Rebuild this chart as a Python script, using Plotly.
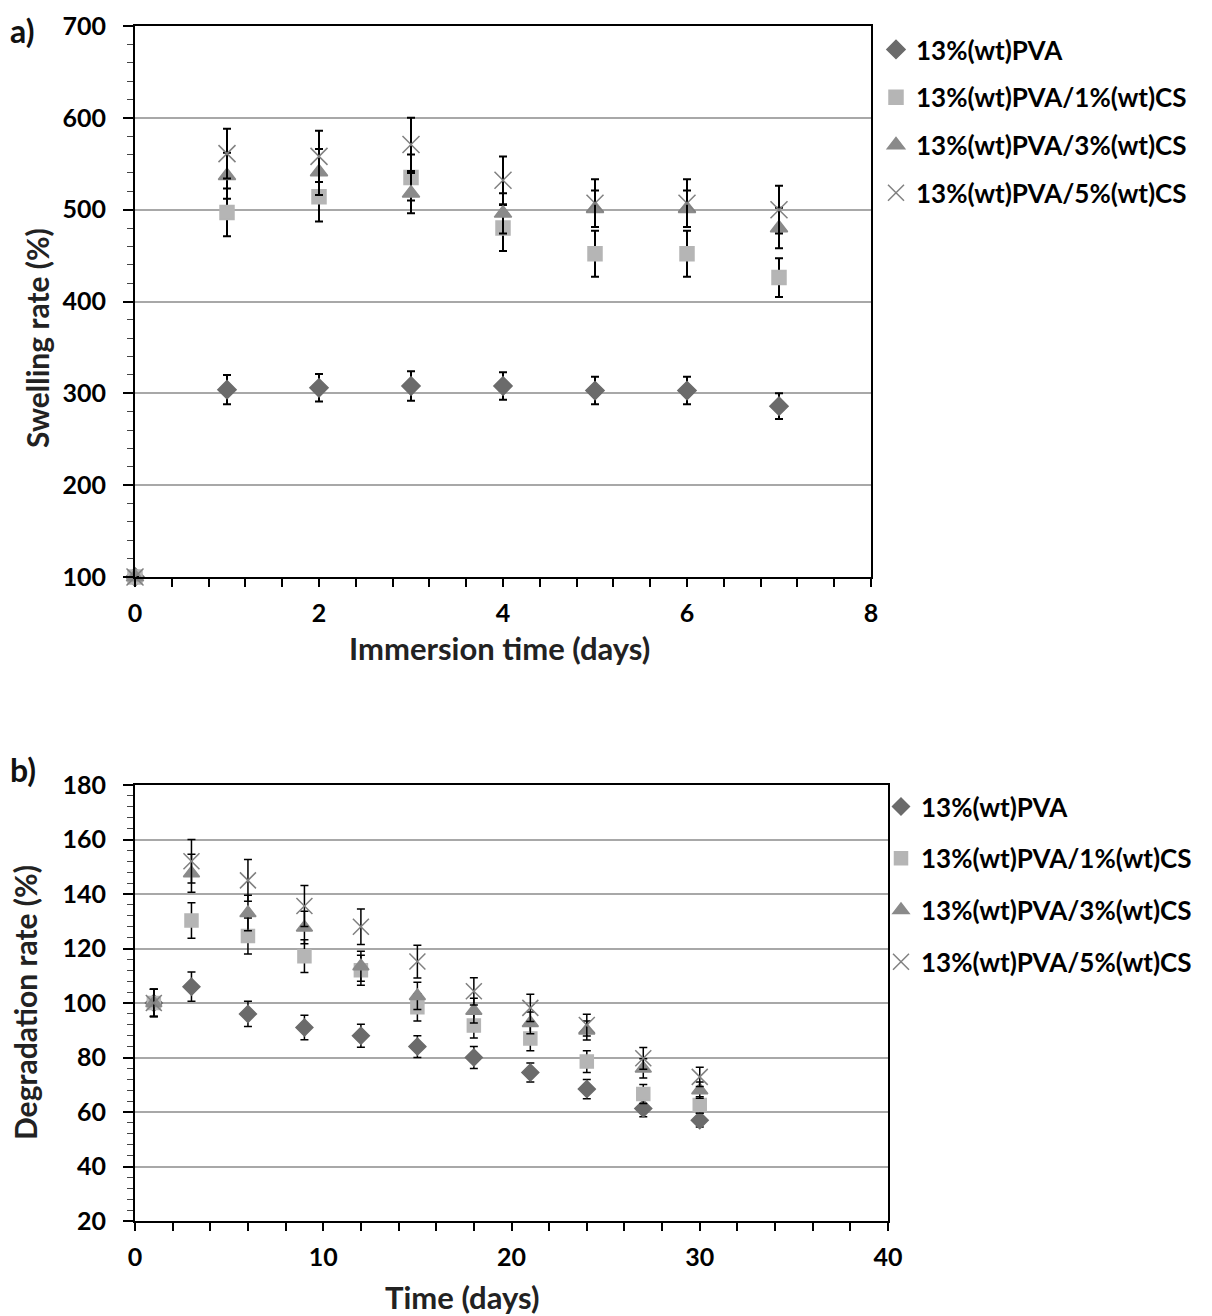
import plotly.graph_objects as go

# page body has an 8px margin; figure starts at (8, 8) in the page
OFF = 8
W, H = 1212 - OFF, 1316 - OFF

# ---------- data panel a ----------
days_a = [0, 1, 2, 3, 4, 5, 6, 7]
pva_a = [100, 304, 306, 308, 308, 303, 303, 286]
pva_a_err = [0, 16, 15, 16, 15, 15, 15, 14]
cs1_a = [100, 497, 514, 535, 480, 452, 452, 426]
cs1_a_err = [0, 26, 27, 25, 25, 25, 25, 21]
cs3_a = [100, 537, 541, 518, 496, 501, 501, 480]
cs3_a_err = [0, 25, 25, 22, 22, 20, 20, 22]
cs5_a = [100, 561, 558, 571, 532, 507, 507, 500]
cs5_a_err = [0, 27, 28, 29, 26, 26, 26, 26]

# ---------- data panel b ----------
days_b = [1, 3, 6, 9, 12, 15, 18, 21, 24, 27, 30]
pva_b = [100, 106, 96, 91, 88, 84, 80, 74.5, 68.4, 61.3, 57]
pva_b_err = [5, 5.4, 4.6, 4.5, 4.2, 4, 4, 3.5, 3.5, 3, 2.5]
cs1_b = [100, 130.3, 124.6, 117.2, 112, 98.4, 91.7, 87, 78.5, 66.6, 62.6]
cs1_b_err = [5, 6.5, 6.6, 6, 5.5, 5, 4.5, 4.5, 4, 3.5, 3]
cs3_b = [100, 147.6, 133, 127.7, 113.5, 102.6, 97.2, 92.7, 89.9, 76, 68]
cs3_b_err = [5, 7, 6.5, 6, 5.5, 5, 4.5, 4, 3.5, 3.5, 3]
cs5_b = [100, 152, 145, 135.6, 128, 115.2, 104.3, 98.2, 91.9, 79.7, 72.9]
cs5_b_err = [5, 8, 7.7, 7.5, 6.5, 6, 5, 5, 4, 4, 3.5]

names = ["13%(wt)PVA", "13%(wt)PVA/1%(wt)CS", "13%(wt)PVA/3%(wt)CS", "13%(wt)PVA/5%(wt)CS"]
symbols = ["diamond", "square", "triangle-up", "x-thin-open"]
colors = ["#6b6b6b", "#b5b5b5", "#8a8a8a", "#808080"]
sizes = [14, 14, 15, 17]

FONT = "Lato"
fig = go.Figure()

series_a = [(pva_a, pva_a_err), (cs1_a, cs1_a_err), (cs3_a, cs3_a_err), (cs5_a, cs5_a_err)]
series_b = [(pva_b, pva_b_err), (cs1_b, cs1_b_err), (cs3_b, cs3_b_err), (cs5_b, cs5_b_err)]

for i, (vals, err) in enumerate(series_a):
    fig.add_trace(go.Scatter(
        x=days_a, y=vals, mode="markers", name=names[i], cliponaxis=False,
        legend="legend", legendgroup="a%d" % i,
        marker=dict(symbol=symbols[i], size=sizes[i], color=colors[i],
                    line=dict(color=colors[i], width=1.5)),
        error_y=dict(type="data", array=err, color="black", thickness=2, width=4),
        xaxis="x", yaxis="y"))

for i, (vals, err) in enumerate(series_b):
    fig.add_trace(go.Scatter(
        x=days_b, y=vals, mode="markers", name=names[i],
        legend="legend2", legendgroup="b%d" % i,
        marker=dict(symbol=symbols[i], size=sizes[i] - 1, color=colors[i],
                    line=dict(color=colors[i], width=1.5)),
        error_y=dict(type="data", array=err, color="black", thickness=1.5, width=4),
        xaxis="x2", yaxis="y2"))


def px(x):
    return (x - OFF) / W


def py(y):
    return 1 - (y - OFF) / H


tickfont = dict(family=FONT, size=25, color="black", weight="bold")
legfont = dict(family=FONT, size=26, color="black", weight="bold")
common_axis = dict(showline=True, linecolor="black", linewidth=2, mirror=True,
                   ticks="outside", tickcolor="black", tickwidth=1.5,
                   tickfont=tickfont, zeroline=False, automargin=False)

fig.update_layout(
    width=W, height=H, margin=dict(l=0, r=0, t=0, b=0, autoexpand=False),
    paper_bgcolor="white", plot_bgcolor="white", showlegend=True,
    xaxis=dict(domain=[px(135), px(871)], range=[0, 8], dtick=2, anchor="y",
               ticklen=8, showgrid=False, ticklabelstandoff=5,
               minor=dict(dtick=0.4, ticks="outside", ticklen=8, tickcolor="black", tickwidth=1.5),
               **common_axis),
    yaxis=dict(domain=[py(577), py(26)], range=[100, 700], dtick=100, anchor="x",
               ticklen=10, showgrid=True, gridcolor="#a8a8a8", gridwidth=2, ticklabelstandoff=12,
               minor=dict(dtick=20, ticks="outside", ticklen=6, tickcolor="#444444", tickwidth=1, showgrid=False),
               **common_axis),
    xaxis2=dict(domain=[px(135), px(888)], range=[0, 40], dtick=10, anchor="y2",
                ticklen=8, showgrid=False, ticklabelstandoff=5,
                minor=dict(dtick=2, ticks="outside", ticklen=8, tickcolor="black", tickwidth=1.5),
                **common_axis),
    yaxis2=dict(domain=[py(1221), py(785)], range=[20, 180], dtick=20, anchor="x2",
                ticklen=10, showgrid=True, gridcolor="#a8a8a8", gridwidth=2, ticklabelstandoff=12,
                minor=dict(dtick=4, ticks="outside", ticklen=6, tickcolor="#444444", tickwidth=1, showgrid=False),
                **common_axis),
    legend=dict(x=px(876), y=py(26), xanchor="left", yanchor="top",
                font=legfont, tracegroupgap=11, bgcolor="rgba(0,0,0,0)", itemwidth=30),
    legend2=dict(x=px(881), y=py(783), xanchor="left", yanchor="top",
                 font=legfont, tracegroupgap=15, bgcolor="rgba(0,0,0,0)", itemwidth=30),
)

annots = [
    ("a)", 8, 30, 0, 32, "left"),
    ("b)", 8, 769, 0, 32, "left"),
    ("Immersion time (days)", 499, 648, 0, 31, "center"),
    ("Time (days)", 462, 1297, 0, 31, "center"),
    ("Swelling rate (%)", 37, 338, -90, 30, "center"),
    ("Degradation rate (%)", 25, 1003, -90, 30, "center"),
]
for text, ax, ay, ang, fs, xa in annots:
    fig.add_annotation(text=text, x=px(ax), y=py(ay), xref="paper", yref="paper",
                       xanchor=xa, yanchor="middle", showarrow=False, textangle=ang,
                       font=dict(family=FONT, size=fs, color="#111111" if fs == 32 else "#222222",
                                 weight="bold"))

fig.write_html("out.html")
